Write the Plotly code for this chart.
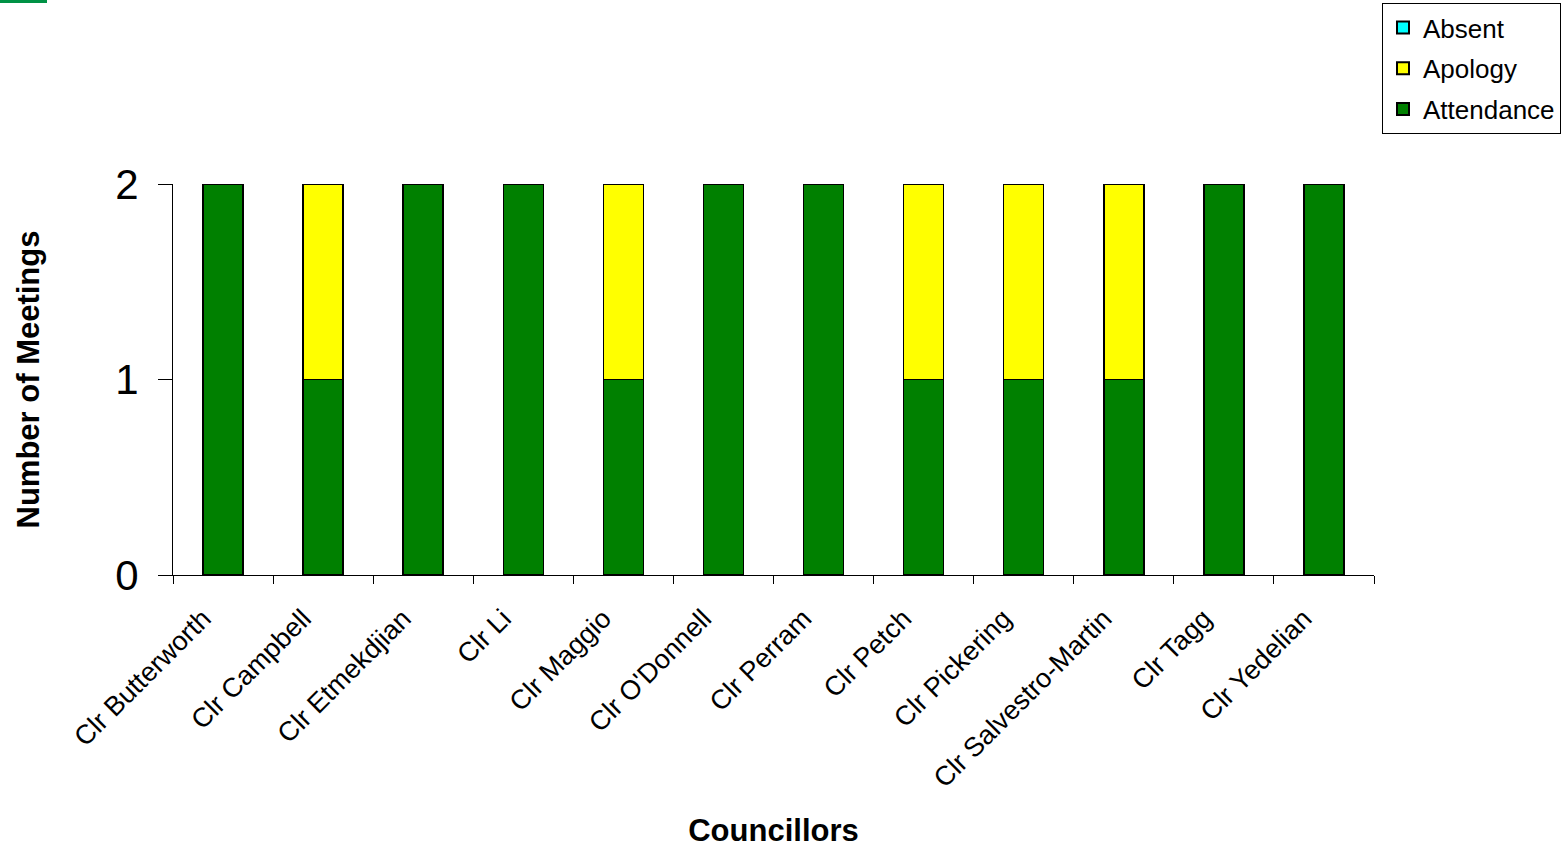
import plotly.graph_objects as go

councillors = [
    "Clr Butterworth", "Clr Campbell", "Clr Etmekdjian", "Clr Li", "Clr Maggio",
    "Clr O'Donnell", "Clr Perram", "Clr Petch", "Clr Pickering",
    "Clr Salvestro-Martin", "Clr Tagg", "Clr Yedelian",
]
attendance = [2, 1, 2, 2, 1, 2, 2, 1, 1, 1, 2, 2]
apology = [0, 1, 0, 0, 1, 0, 0, 1, 1, 1, 0, 0]
absent = [0, 0, 0, 0, 0, 0, 0, 0, 0, 0, 0, 0]

W, H = 1568, 848
L, R, T, B = 173, 194, 184, 273
pw, ph = W - L - R, H - T - B

font = "Liberation Sans, Arial, sans-serif"
outline = dict(color="black", width=1.5)

fig = go.Figure()
# stacked bottom to top; legend lists them top to bottom via legendrank
fig.add_trace(go.Bar(name="Attendance", x=councillors, y=attendance,
                     legendgroup="attendance", legendrank=3,
                     marker=dict(color="#008000", line=outline)))
fig.add_trace(go.Bar(name="Apology", x=councillors, y=apology,
                     legendgroup="apology", legendrank=2,
                     marker=dict(color="#FFFF00", line=outline)))
fig.add_trace(go.Bar(name="Absent", x=councillors, y=absent,
                     legendgroup="absent", legendrank=1,
                     marker=dict(color="#00FFFF", line=outline)))

fig.update_layout(
    width=W, height=H,
    margin=dict(l=L, r=R, t=T, b=B, autoexpand=False),
    paper_bgcolor="white", plot_bgcolor="white",
    barmode="stack", bargap=0.6,
    font=dict(family=font, color="black"),
    legend=dict(
        traceorder="grouped",
        x=(1382 - L) / pw, y=(H - B - 3) / ph,
        xanchor="left", yanchor="top",
        bordercolor="black", borderwidth=1,
        font=dict(size=26, family=font),
        itemsizing="constant",
        tracegroupgap=4,
    ),
    xaxis=dict(
        showline=True, linecolor="black", linewidth=1,
        ticks="outside", tickson="boundaries", ticklen=8, tickcolor="black",
        tickangle=-45, tickfont=dict(size=27),
        ticklabelshift=-20, ticklabelstandoff=16,
        title=dict(text="<b>Councillors</b>", font=dict(size=31), standoff=28),
        showgrid=False,
    ),
    yaxis=dict(
        range=[0, 2], tickvals=[0, 1, 2],
        showline=True, linecolor="black", linewidth=1,
        ticks="outside", ticklen=14, tickcolor="black",
        tickfont=dict(size=42), ticklabelstandoff=11,
        title=dict(text="<b>Number of Meetings</b>", font=dict(size=31), standoff=66),
        showgrid=False, zeroline=False,
    ),
    shapes=[dict(
        type="rect", xref="paper", yref="paper",
        x0=-L / pw, x1=(47 - L) / pw,
        y0=1 + (T - 3) / ph, y1=1 + T / ph,
        fillcolor="#009245", line=dict(width=0),
    )],
)

fig.write_html("out.html")
